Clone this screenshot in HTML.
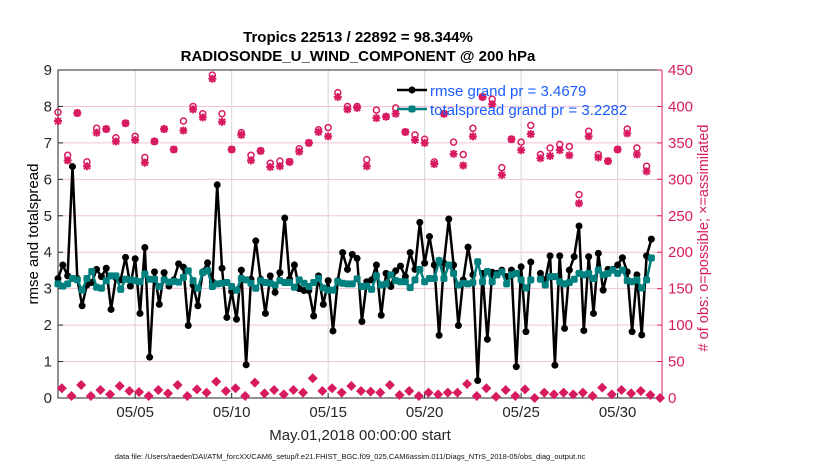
<!DOCTYPE html>
<html><head><meta charset="utf-8"><style>
html,body{margin:0;padding:0;background:#fff;}
svg{display:block;font-family:"Liberation Sans",sans-serif;}
</style></head><body>
<svg id="chart" width="830" height="470" viewBox="0 0 830 470">
<text x="358" y="42" text-anchor="middle" font-size="15" font-weight="bold">Tropics 22513 / 22892 = 98.344%</text>
<text x="358" y="61" text-anchor="middle" font-size="15" font-weight="bold">RADIOSONDE_U_WIND_COMPONENT @ 200 hPa</text>
<text transform="translate(38,234) rotate(-90)" text-anchor="middle" font-size="15">rmse and totalspread</text>
<text transform="translate(708,238) rotate(-90)" text-anchor="middle" font-size="14.5" fill="#d81b60"># of obs: o=possible; ×=assimilated</text>
<text x="360" y="440" text-anchor="middle" font-size="15" fill="#262626">May.01,2018 00:00:00 start</text>
<text x="350" y="459" text-anchor="middle" font-size="7.5" fill="#111">data file: /Users/raeder/DAI/ATM_forcXX/CAM6_setup/f.e21.FHIST_BGC.f09_025.CAM6assim.011/Diags_NTrS_2018-05/obs_diag_output.nc</text>
<g id="plot"></g>
</svg>
<script>
const xTickLabels=["05/05","05/10","05/15","05/20","05/25","05/30"];
const xTickDays=[4,9,14,19,24,29];
const yTicksLeft=[0,1,2,3,4,5,6,7,8,9];
const yTicksRight=[0,50,100,150,200,250,300,350,400,450];
// 6-hourly series (index*0.25 day)
const rmse=[3.28,3.65,3.35,6.35,3.28,2.53,3.1,3.17,3.53,3.33,3.56,2.43,3.3,3.24,3.86,3.07,3.82,2.32,4.13,1.12,3.46,2.57,3.44,3.07,3.24,3.68,3.59,1.99,3.10,2.53,3.46,3.71,3.19,5.85,3.56,2.21,2.92,2.16,3.51,0.91,3.26,4.31,3.26,2.32,3.35,2.90,3.44,4.94,3.26,3.65,3.0,2.95,2.95,2.25,3.35,2.57,3.22,1.84,3.22,3.99,3.53,3.94,3.83,2.10,
3.19,3.24,3.65,2.27,3.42,3.06,3.49,3.62,3.33,3.99,3.53,4.82,3.70,4.43,3.65,1.72,3.70,4.91,3.65,1.99,3.24,4.14,3.38,0.48,3.42,1.61,3.45,3.42,3.51,3.33,3.51,0.86,3.60,1.82,3.73,null,3.42,3.24,3.90,0.90,3.90,1.91,3.51,3.88,4.72,1.85,3.88,2.32,3.97,2.96,3.53,3.53,3.65,3.85,3.46,1.82,3.38,1.73,3.90,4.36];
const spread=[3.13,3.07,3.13,3.28,3.24,2.96,3.28,3.47,3.04,3.01,3.22,3.35,3.35,2.98,3.26,3.24,3.22,3.19,3.40,3.26,3.26,3.06,3.24,3.18,3.20,3.18,3.31,3.49,3.22,3.01,3.44,3.49,3.06,3.13,3.15,3.17,3.06,2.96,3.28,3.24,3.15,3.01,3.22,3.17,3.15,3.10,3.22,3.17,3.17,3.04,3.24,3.15,3.06,3.17,3.28,3.02,2.96,2.96,3.20,3.15,3.13,3.13,3.27,3.06,
3.07,2.98,3.35,3.10,3.13,3.38,3.22,3.19,3.19,3.03,3.24,3.53,3.19,3.28,3.28,3.77,3.28,3.65,3.42,3.10,3.15,3.13,3.17,3.74,3.19,3.47,3.19,3.38,3.46,3.13,3.38,3.42,3.24,3.02,3.24,null,3.26,3.10,3.33,3.33,3.19,3.13,3.17,3.26,3.42,3.38,3.42,3.28,3.51,3.38,3.42,3.51,3.42,3.51,3.22,3.19,3.24,3.02,3.24,3.84];
// 12-hourly obs counts (index*0.5 day)
const obsPossible=[392,333,391,324,370,369,357,377,359,330,352,369,341,380,400,390,443,390,341,364,333,339,322,325,324,342,350,368,371,419,400,400,327,395,386,398,365,361,355,324,390,351,334,370,413,410,316,355,351,374,334,343,348,345,279,366,334,325,341,369,343,318];
const obsAssim=[380,326,391,318,364,369,352,377,354,323,352,369,341,367,396,385,438,379,341,361,326,339,317,318,324,338,350,365,359,413,396,398,318,384,386,390,365,354,350,321,390,335,319,359,413,403,306,355,340,362,329,332,340,333,267,359,330,325,341,363,334,311];
const obsLow=[13.3,2.7,17.9,2.7,10.9,5,16.5,9.6,8.2,2.7,10.9,6.4,17.9,2.7,11.9,7.3,22.5,9.6,13.3,2.7,21.1,6.4,10.9,5,10.9,7.3,27.1,9.6,13.3,7.3,16.5,9.6,8.7,7.3,17.9,4.1,9.6,2.7,7.3,5,7.3,7.3,19.2,2.7,13.3,1.8,10.9,2.7,11.9,0,7.3,5,7.3,5,7.3,2.7,14.2,5,10.9,6.4,9.6,4.1,0];

const NS="http://www.w3.org/2000/svg";
const L=58,R=662,T=70,B=398;
const dayMax=31.3;
const xs=d=>L+d/dayMax*(R-L);
const yL=v=>B-v/9*(B-T);
const yR=v=>B-v/450*(B-T);
const g=document.getElementById('plot');
function mk(tag,attrs,parent){const e=document.createElementNS(NS,tag);for(const k in attrs)e.setAttribute(k,attrs[k]);(parent||g).appendChild(e);return e;}
const CR="#d81b60",TEAL="#00807f";
// grid
yTicksRight.forEach(v=>{if(v>0&&v<450){const l=mk('line',{x1:L,x2:R,y1:yR(v),y2:yR(v),stroke:"#f2c4d3","stroke-width":1});

}});
xTickDays.forEach((d,i)=>{const l=mk('line',{x1:xs(d),x2:xs(d),y1:T,y2:B,stroke:"#d6d6d6","stroke-width":1});


const t=mk('text',{x:xs(d),y:B+19,"text-anchor":"middle","font-size":15,fill:"#262626"});t.textContent=xTickLabels[i];


mk('line',{x1:xs(d),x2:xs(d),y1:B,y2:B-5,stroke:"#262626"});});
// axes
const ax=mk('path',{d:`M${R},${T}H${L}V${B}H${R}`,fill:"none",stroke:"#262626","stroke-width":1});


const rax=mk('line',{x1:R,x2:R,y1:T,y2:B,stroke:CR,"stroke-width":1});


yTicksLeft.forEach(v=>{mk('line',{x1:L,x2:L+5,y1:yL(v),y2:yL(v),stroke:"#262626"});
const t=mk('text',{x:L-6,y:yL(v)+5,"text-anchor":"end","font-size":15,fill:"#262626"});t.textContent=v;

});
yTicksRight.forEach(v=>{mk('line',{x1:R,x2:R-5,y1:yR(v),y2:yR(v),stroke:CR});
const t=mk('text',{x:R+6,y:yR(v)+5,"text-anchor":"start","font-size":15,fill:CR});t.textContent=v;

});
// obs markers
function star(x,y,name){const s=mk('path',{d:`M${x-4},${y}H${x+4}M${x},${y-4}V${y+4}M${x-3},${y-3}L${x+3},${y+3}M${x-3},${y+3}L${x+3},${y-3}`,stroke:CR,"stroke-width":2});

}
obsPossible.forEach((v,i)=>{const c=mk('circle',{cx:xs(i*0.5),cy:yR(v),r:3,fill:"none",stroke:CR,"stroke-width":1.5});

});
obsAssim.forEach((v,i)=>star(xs(i*0.5),yR(v),'obs-assimilated-marker'));
obsLow.forEach((v,i)=>{const x=xs(i*0.5+0.2),y=yR(v);const d=mk('path',{d:`M${x},${y-5}L${x+5},${y}L${x},${y+5}L${x-5},${y}Z`,fill:CR});

});
// lines
function series(arr,color,name,sq){let d="",pen=false;arr.forEach((v,i)=>{if(v==null){pen=false;return;}d+=(pen?"L":"M")+xs(i*0.25).toFixed(1)+","+yL(v).toFixed(1);pen=true;});
const p=mk('path',{d:d,fill:"none",stroke:color,"stroke-width":2.5});


arr.forEach((v,i)=>{if(v==null)return;let m;
if(sq)m=mk('rect',{x:xs(i*0.25)-3.5,y:yL(v)-3.5,width:7,height:7,rx:2,fill:color});
else m=mk('circle',{cx:xs(i*0.25),cy:yL(v),r:3.5,fill:color});

});}
series(rmse,"#000",'rmse',false);
series(spread,TEAL,'totalspread',true);
// legend
const lg=mk('g',{});


mk('line',{x1:397,x2:427,y1:90,y2:90,stroke:"#000","stroke-width":2.5},lg);
mk('circle',{cx:412,cy:90,r:3.5,fill:"#000"},lg);
const t1=mk('text',{x:430,y:96,"font-size":15,fill:"#1a5cff"},lg);t1.textContent="rmse grand pr = 3.4679";


mk('line',{x1:397,x2:427,y1:109,y2:109,stroke:TEAL,"stroke-width":2.5},lg);
mk('rect',{x:408.5,y:105.5,width:7,height:7,rx:2,fill:TEAL},lg);
const t2=mk('text',{x:430,y:115,"font-size":15,fill:"#1a5cff"},lg);t2.textContent="totalspread grand pr = 3.2282";


</script>
</body></html>
